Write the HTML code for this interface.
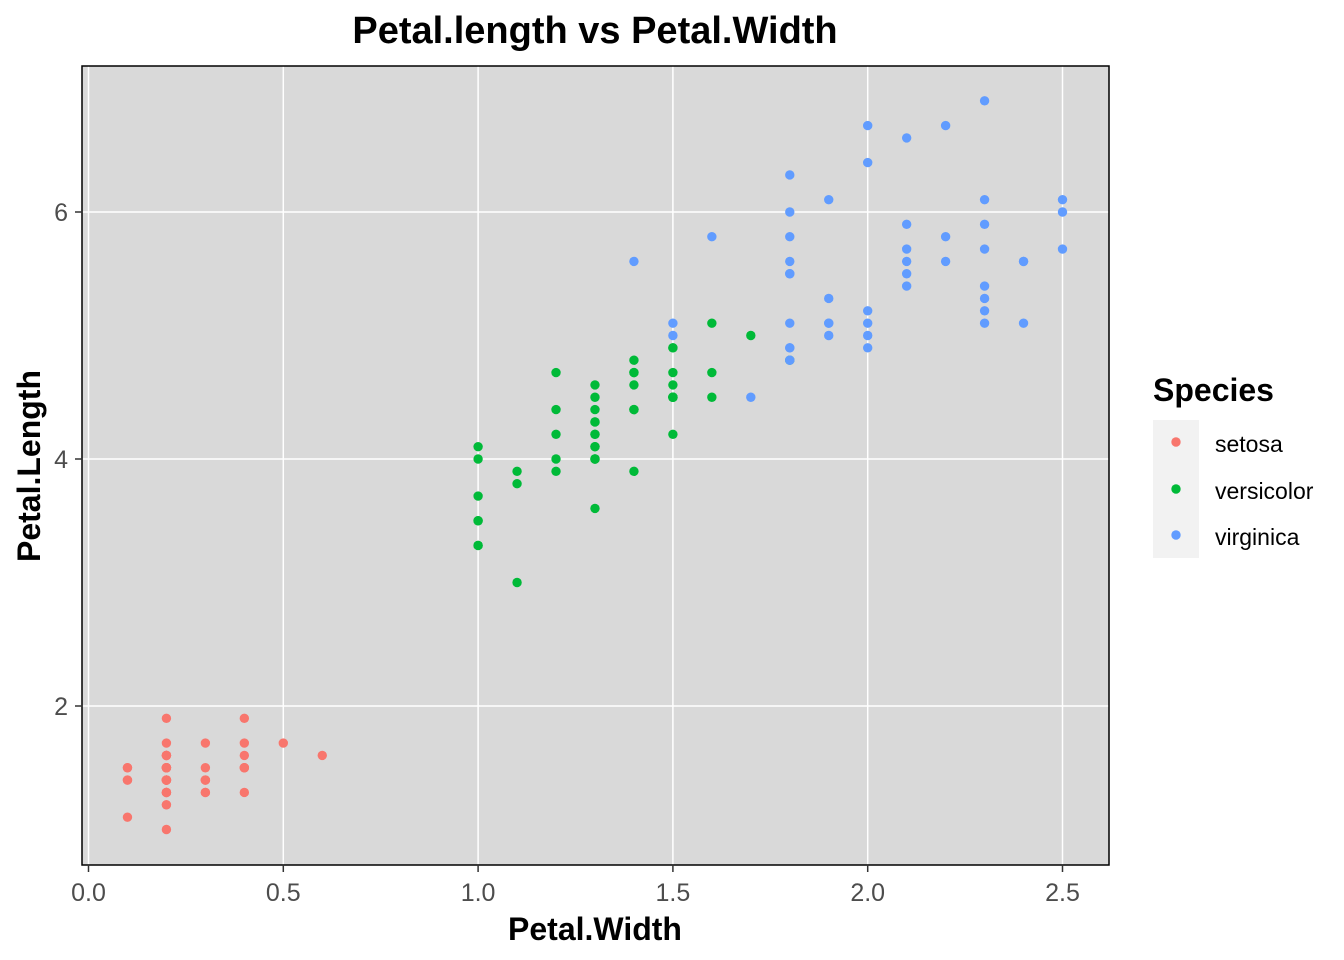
<!DOCTYPE html>
<html><head><meta charset="utf-8"><style>
html,body{margin:0;padding:0;background:#fff;}
svg{display:block;font-family:"Liberation Sans",Arial,sans-serif;}
</style></head><body>
<svg id="chart" width="1344" height="960" viewBox="0 0 1344 960">
<rect x="0" y="0" width="1344" height="960" fill="#fff"/>
<text x="595" y="43" text-anchor="middle" font-size="38" font-weight="bold">Petal.length vs Petal.Width</text>
<rect x="82" y="66" width="1027" height="799" fill="#d9d9d9"/>
<g id="grid"></g>
<g id="points"></g>
<rect x="82" y="66" width="1027" height="799" fill="none" stroke="#000" stroke-width="1.5"/>
<g id="axes"></g>
<text x="595" y="940" text-anchor="middle" font-size="32" font-weight="bold">Petal.Width</text>
<text transform="translate(40,466) rotate(-90)" text-anchor="middle" font-size="32" font-weight="bold">Petal.Length</text>
<g>
<text x="1153" y="401" font-size="32" font-weight="bold">Species</text>
<rect x="1153" y="420" width="46" height="138" fill="#f2f2f2"/>
<g><circle cx="1176" cy="442" r="4.7" fill="#F8766D"/><text x="1215" y="452" font-size="23">setosa</text></g>
<g><circle cx="1176" cy="489" r="4.7" fill="#00BA38"/><text x="1215" y="499" font-size="23">versicolor</text></g>
<g><circle cx="1176" cy="535" r="4.7" fill="#619CFF"/><text x="1215" y="545" font-size="23">virginica</text></g>
</g>
</svg>
<script>
const xTicks = [0.0, 0.5, 1.0, 1.5, 2.0, 2.5];
const xTickLabels = ["0.0", "0.5", "1.0", "1.5", "2.0", "2.5"];
const yTicks = [2, 4, 6];
const yTickLabels = ["2", "4", "6"];
const species = ["setosa", "versicolor", "virginica"];
const colors = ["#F8766D", "#00BA38", "#619CFF"];
const setosaWidth = [.2,.2,.2,.2,.2,.4,.3,.2,.2,.1,.2,.2,.1,.1,.2,.4,.4,.3,.3,.3,.2,.4,.2,.5,.2,.2,.4,.2,.2,.2,.2,.4,.1,.2,.2,.2,.2,.1,.2,.2,.3,.3,.2,.6,.4,.3,.2,.2,.2,.2];
const setosaLength = [1.4,1.4,1.3,1.5,1.4,1.7,1.4,1.5,1.4,1.5,1.5,1.6,1.4,1.1,1.2,1.5,1.3,1.4,1.7,1.5,1.7,1.5,1.0,1.7,1.9,1.6,1.6,1.5,1.4,1.6,1.6,1.5,1.5,1.4,1.5,1.2,1.3,1.4,1.3,1.5,1.3,1.3,1.3,1.6,1.9,1.4,1.6,1.4,1.5,1.4];
const versicolorWidth = [1.4,1.5,1.5,1.3,1.5,1.3,1.6,1.0,1.3,1.4,1.0,1.5,1.0,1.4,1.3,1.4,1.5,1.0,1.5,1.1,1.8,1.3,1.5,1.2,1.3,1.4,1.4,1.7,1.5,1.0,1.1,1.0,1.2,1.6,1.5,1.6,1.5,1.3,1.3,1.3,1.2,1.4,1.2,1.0,1.3,1.2,1.3,1.3,1.1,1.3];
const versicolorLength = [4.7,4.5,4.9,4.0,4.6,4.5,4.7,3.3,4.6,3.9,3.5,4.2,4.0,4.7,3.6,4.4,4.5,4.1,4.5,3.9,4.8,4.0,4.9,4.7,4.3,4.4,4.8,5.0,4.5,3.5,3.8,3.7,3.9,5.1,4.5,4.5,4.7,4.4,4.1,4.0,4.4,4.6,4.0,3.3,4.2,4.2,4.2,4.3,3.0,4.1];
const virginicaWidth = [2.5,1.9,2.1,1.8,2.2,2.1,1.7,1.8,1.8,2.5,2.0,1.9,2.1,2.0,2.4,2.3,1.8,2.2,2.3,1.5,2.3,2.0,2.0,1.8,2.1,1.8,1.8,1.8,2.1,1.6,1.9,2.0,2.2,1.5,1.4,2.3,2.4,1.8,1.8,2.1,2.4,2.3,1.9,2.3,2.5,2.3,1.9,2.0,2.3,1.8];
const virginicaLength = [6.0,5.1,5.9,5.6,5.8,6.6,4.5,6.3,5.8,6.1,5.1,5.3,5.5,5.0,5.1,5.3,5.5,6.7,6.9,5.0,5.7,4.9,6.7,4.9,5.7,6.0,4.8,4.9,5.6,5.8,6.1,6.4,5.6,5.1,5.6,6.1,5.6,5.5,4.8,5.4,5.6,5.1,5.1,5.9,5.7,5.2,5.0,5.2,5.4,5.1];

const NS = "http://www.w3.org/2000/svg";
function xScale(v){ return 88.5 + v * 389.6; }
function yScale(v){ return 706 - (v - 2) * 123.5; }
function mk(tag, attrs, parent){ const e = document.createElementNS(NS, tag); for (const k in attrs) e.setAttribute(k, attrs[k]); parent.appendChild(e); return e; }

const grid = document.getElementById('grid');
const axes = document.getElementById('axes');
xTicks.forEach((t, i) => {
  const x = xScale(t);
  const g = mk('line', {x1:x, x2:x, y1:66, y2:865, stroke:'#fff', 'stroke-width':1.5}, grid);
  
  
  const tk = mk('line', {x1:x, x2:x, y1:865, y2:872, stroke:'#333', 'stroke-width':1.5}, axes);
  
  
  const lb = mk('text', {x:x, y:901, 'text-anchor':'middle', 'font-size':25, fill:'#4d4d4d'}, axes);
  lb.textContent = xTickLabels[i];
  
  
});
yTicks.forEach((t, i) => {
  const y = yScale(t);
  const g = mk('line', {x1:82, x2:1109, y1:y, y2:y, stroke:'#fff', 'stroke-width':1.5}, grid);
  
  
  const tk = mk('line', {x1:75, x2:82, y1:y, y2:y, stroke:'#333', 'stroke-width':1.5}, axes);
  
  
  const lb = mk('text', {x:68, y:y+9, 'text-anchor':'end', 'font-size':25, fill:'#4d4d4d'}, axes);
  lb.textContent = yTickLabels[i];
  
  
});
const pts = document.getElementById('points');
const series = [[setosaWidth, setosaLength], [versicolorWidth, versicolorLength], [virginicaWidth, virginicaLength]];
series.forEach((s, si) => {
  s[0].forEach((w, i) => {
    const c = mk('circle', {cx:xScale(w), cy:yScale(s[1][i]), r:4.7, fill:colors[si]}, pts);
    
    
  });
});
</script>
</body></html>
